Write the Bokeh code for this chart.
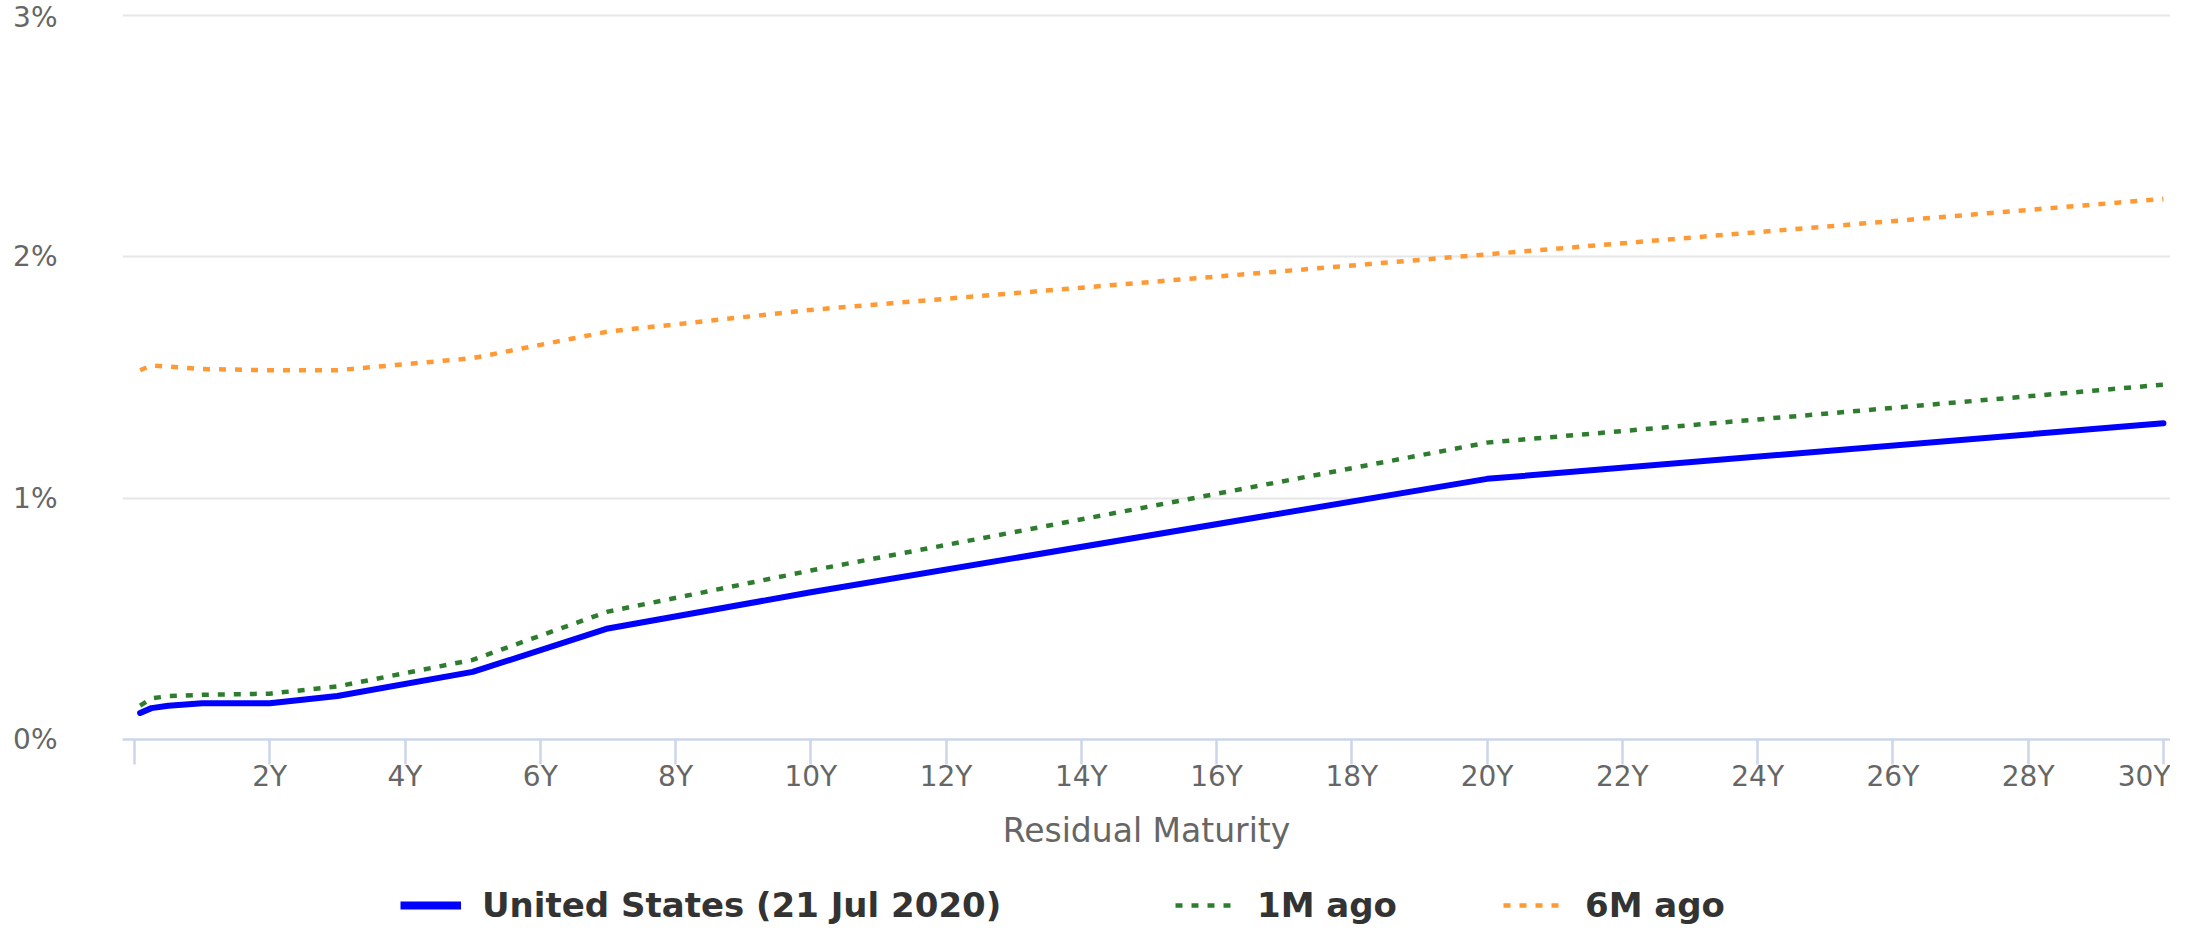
from bokeh.plotting import figure
from bokeh.models import Range1d, FixedTicker, Legend, LegendItem, ColumnDataSource
from bokeh.layouts import column
from bokeh.embed import file_html
from bokeh.resources import INLINE

# ---- data ----
maturity_labels = ["1M", "3M", "6M", "1Y", "2Y", "3Y", "5Y", "7Y", "10Y", "20Y", "30Y"]
maturity_years = [1 / 12, 0.25, 0.5, 1, 2, 3, 5, 7, 10, 20, 30]
us_now = [0.11, 0.13, 0.14, 0.15, 0.15, 0.18, 0.28, 0.46, 0.61, 1.08, 1.31]
one_month_ago = [0.14, 0.17, 0.18, 0.185, 0.19, 0.22, 0.33, 0.53, 0.70, 1.23, 1.47]
six_months_ago = [1.53, 1.55, 1.545, 1.535, 1.53, 1.53, 1.58, 1.69, 1.78, 2.01, 2.24]

series_names = ["United States (21 Jul 2020)", "1M ago", "6M ago"]
series_colors = ["#0000ff", "#2e7d2e", "#ff9933"]

x_ticks = [0, 2, 4, 6, 8, 10, 12, 14, 16, 18, 20, 22, 24, 26, 28, 30]
x_tick_labels = ["", "2Y", "4Y", "6Y", "8Y", "10Y", "12Y", "14Y", "16Y", "18Y",
                 "20Y", "22Y", "24Y", "26Y", "28Y", "30Y"]
y_ticks = [0, 1, 2, 3]
y_tick_labels = ["0%", "1%", "2%", "3%"]

FONT = "DejaVu Sans"
W = 2170
MAIN_H = 852
LEG_H = 927 - MAIN_H
LEFT = 122

p = figure(width=W, height=MAIN_H, output_backend="svg", toolbar_location=None,
           x_range=Range1d(-0.1774, 30.105), y_range=Range1d(0, 3.008),
           min_border_left=LEFT, min_border_right=0, min_border_top=13,
           min_border_bottom=MAIN_H - 740)
p.outline_line_color = None
p.background_fill_color = "white"
p.border_fill_color = "white"

src = ColumnDataSource(dict(x=maturity_years, us=us_now, m1=one_month_ago,
                            m6=six_months_ago, lab=maturity_labels))

p.line("x", "us", source=src, line_color=series_colors[0], line_width=6,
       line_join="round", line_cap="round")
p.line("x", "m1", source=src, line_color=series_colors[1], line_width=4.5,
       line_dash="7 9", line_join="round")
p.line("x", "m6", source=src, line_color=series_colors[2], line_width=4.5,
       line_dash="7 9", line_join="round")

# x axis
xa = p.xaxis[0]
xa.ticker = FixedTicker(ticks=x_ticks)
xa.major_label_overrides = {t: l for t, l in zip(x_ticks, x_tick_labels)}
xa.axis_line_color = "#ccd6eb"
xa.axis_line_width = 2.5
xa.major_tick_line_color = "#ccd6eb"
xa.major_tick_line_width = 2.5
xa.major_tick_in = 0
xa.major_tick_out = 25
xa.minor_tick_line_color = None
xa.major_label_standoff = -5
xa.major_label_text_font = FONT
xa.major_label_text_font_size = "28px"
xa.major_label_text_color = "#666666"
xa.axis_label = "Residual Maturity"
xa.axis_label_text_font = FONT
xa.axis_label_text_font_size = "33px"
xa.axis_label_text_font_style = "normal"
xa.axis_label_text_color = "#666666"
xa.axis_label_standoff = 15

# y axis
ya = p.yaxis[0]
ya.ticker = FixedTicker(ticks=y_ticks)
ya.major_label_overrides = {t: l for t, l in zip(y_ticks, y_tick_labels)}
ya.axis_line_color = None
ya.major_tick_line_color = None
ya.minor_tick_line_color = None
ya.major_label_standoff = 59
ya.major_label_text_font = FONT
ya.major_label_text_font_size = "28px"
ya.major_label_text_color = "#666666"

p.xgrid.grid_line_color = None
p.ygrid.ticker = FixedTicker(ticks=y_ticks)
p.ygrid.grid_line_color = "#e6e6e6"
p.ygrid.grid_line_width = 2

# ---- legend strip (separate figure below the chart) ----
# the series are repeated here only to give the legend its line samples;
# the ranges keep them out of view
lf = figure(width=W, height=LEG_H, output_backend="svg", toolbar_location=None,
            x_axis_type=None, y_axis_type=None,
            x_range=Range1d(1000, 1001), y_range=Range1d(1000, 1001),
            min_border_left=LEFT, min_border_right=0, min_border_top=0,
            min_border_bottom=0)
lf.outline_line_color = None
lf.background_fill_color = "white"
lf.border_fill_color = "white"

leg_us = lf.line("x", "us", source=src, line_color=series_colors[0], line_width=8)
leg_m1 = lf.line("x", "m1", source=src, line_color=series_colors[1], line_width=4.5,
                 line_dash="7 9")
leg_m6 = lf.line("x", "m6", source=src, line_color=series_colors[2], line_width=4.5,
                 line_dash="7 9")

legend_x = [400 - LEFT, 1175 - LEFT, 1503 - LEFT]
for r, name, lx in zip([leg_us, leg_m1, leg_m6], series_names, legend_x):
    lg = Legend(items=[LegendItem(label=name, renderers=[r])],
                location=(lx, 2), orientation="horizontal",
                padding=0, margin=0, border_line_color=None,
                background_fill_alpha=0, glyph_width=61, glyph_height=38,
                label_height=38, label_standoff=21,
                label_text_font=FONT, label_text_font_size="34px",
                label_text_font_style="bold", label_text_color="#333333")
    lf.add_layout(lg, "center")

layout = column(p, lf, spacing=0)
open("out.html", "w").write(file_html(layout, INLINE))
